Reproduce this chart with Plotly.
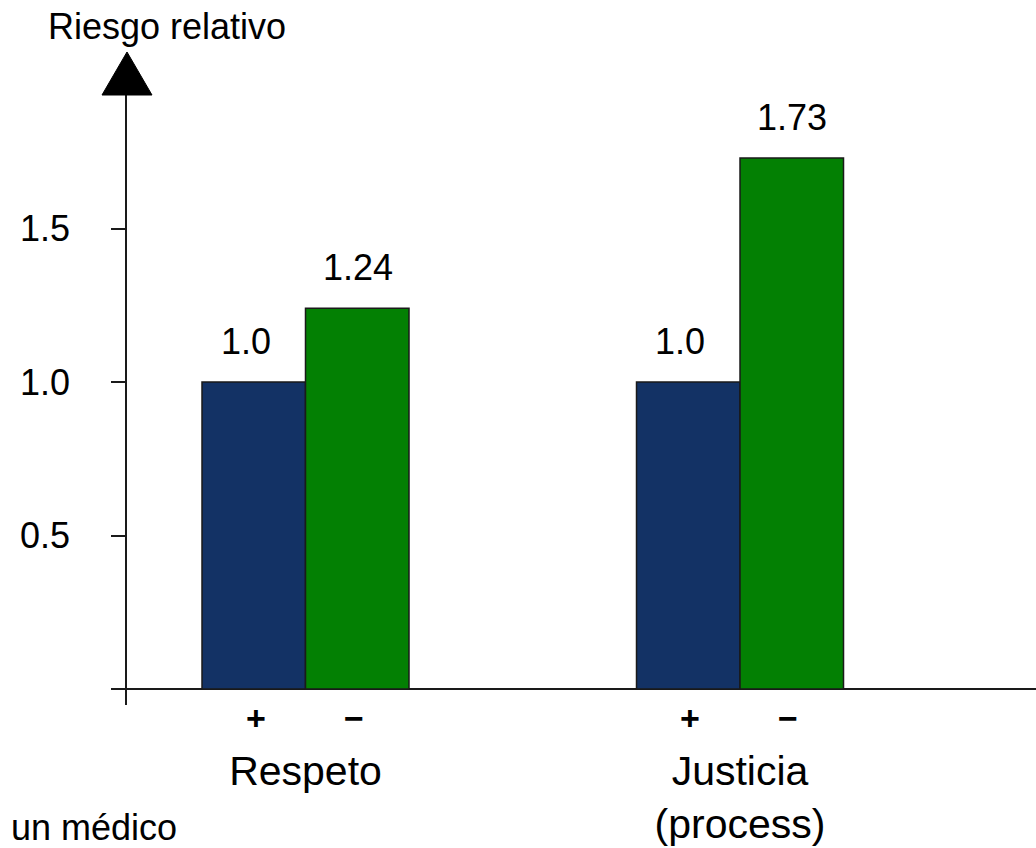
import plotly.graph_objects as go

# Relative risk by perceived treatment (+ / −) for two dimensions
categories = ["Respeto", "Justicia<br>(process)"]
group_names = ["+", "−"]
risk_plus = [1.0, 1.0]
risk_minus = [1.24, 1.73]
y_tickvals = [0, 0.5, 1.0, 1.5]
y_ticktext = ["", "0.5", "1.0", "1.5"]

FONT = "Liberation Sans, Arial, sans-serif"
BLUE = "#133265"
GREEN = "#038003"
EDGE = "#1a1a1a"


def fmt(v):
    s = f"{v:.2f}".rstrip("0")
    return s + "0" if s.endswith(".") else s


fig = go.Figure()
for name, vals, color in [(group_names[0], risk_plus, BLUE), (group_names[1], risk_minus, GREEN)]:
    fig.add_trace(go.Bar(
        x=categories, y=vals, name=name,
        marker=dict(color=color, line=dict(color=EDGE, width=1.5)),
        hoverinfo="skip",
    ))

annotations = []
# value labels above each bar, and +/- markers under each bar
for vals, label_shift, sign_shift, sign in [
    (risk_plus, -60, -50, group_names[0]),
    (risk_minus, 52, 48, group_names[1]),
]:
    for cat, v in zip(categories, vals):
        annotations.append(dict(
            x=cat, y=v, xref="x", yref="y", xshift=label_shift, yshift=18,
            text=fmt(v), showarrow=False, yanchor="bottom",
            font=dict(family=FONT, size=36, color="black"),
        ))
        annotations.append(dict(
            x=cat, y=0, xref="x", yref="y", xshift=sign_shift, yshift=-29,
            text=f"<b>{sign}</b>", showarrow=False, yanchor="middle",
            font=dict(family=FONT, size=34, color="black"),
        ))

annotations.append(dict(
    x=0.0435, y=1.1115, xref="paper", yref="paper",
    text="Riesgo relativo", showarrow=False, xanchor="center", yanchor="middle",
    font=dict(family=FONT, size=36, color="black"),
))
annotations.append(dict(
    x=-0.1298, y=-0.2016, xref="paper", yref="paper",
    text="un médico", showarrow=False, xanchor="left", yanchor="middle",
    font=dict(family=FONT, size=36, color="black"),
))

fig.update_layout(
    width=1036, height=848,
    margin=dict(l=127, r=0, t=95, b=143),
    paper_bgcolor="white", plot_bgcolor="white",
    barmode="group", bargap=0.5236, bargroupgap=0,
    showlegend=False,
    annotations=annotations,
    font=dict(family=FONT, color="black"),
    shapes=[
        # arrow head on top of the value axis
        dict(type="path", xref="paper", yref="paper",
             path="M -0.0275,1 L 0.0275,1 L 0,1.0705 Z",
             fillcolor="black", line=dict(color="black", width=1)),
    ],
)
fig.update_xaxes(
    range=[-0.4108, 1.6812], showline=False, showgrid=False, zeroline=False,
    ticks="", tickfont=dict(family=FONT, size=41, color="black"),
    ticklabelstandoff=38,
)
fig.update_yaxes(
    range=[-0.052, 1.935], showgrid=False,
    showline=True, linecolor=EDGE, linewidth=1.5,
    zeroline=True, zerolinecolor=EDGE, zerolinewidth=1.5,
    tickvals=y_tickvals, ticktext=y_ticktext,
    ticks="outside", ticklen=14, tickcolor=EDGE, tickwidth=1.5,
    tickfont=dict(family=FONT, size=36, color="black"),
    ticklabelstandoff=34,
)

fig.write_html("out.html")
